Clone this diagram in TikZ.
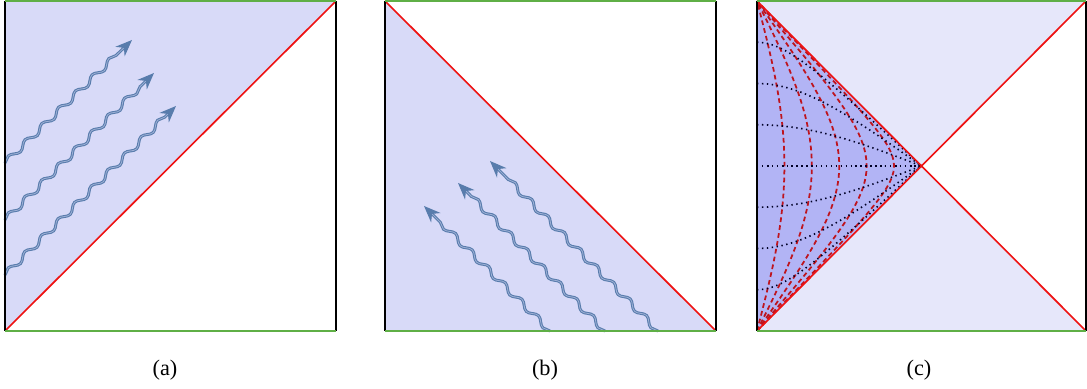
\documentclass[tikz,border=0pt]{standalone}
\usepackage{fontspec}
\setmainfont{Liberation Serif}
\usepackage{tikz}
\usetikzlibrary{arrows.meta,decorations.pathmorphing}
\definecolor{wedgefill}{RGB}{216,218,248}
\definecolor{lightfill}{RGB}{230,231,250}
\definecolor{deepfill}{RGB}{178,180,245}
\definecolor{scrigreen}{RGB}{95,175,70}
\definecolor{horizred}{RGB}{238,18,18}
\definecolor{rhored}{RGB}{190,20,30}
\definecolor{wavblue}{RGB}{88,124,172}

\begin{document}
\begin{tikzpicture}[x=0.015cm,y=-0.015cm,
  every node/.style={font=\fontsize{9.5}{11}\selectfont},
  scri/.style={draw=scrigreen,line width=0.9pt},
  bdry/.style={draw=black,line width=0.7pt},
  horiz/.style={draw=horizred,line width=0.7pt},
  photon/.style={wavblue,line width=0.45pt,double=wedgefill!55!wavblue,double distance=0.35pt,
    decorate,decoration={snake,amplitude=1.2pt,segment length=0.35cm,post length=2.2mm},
    -{Stealth[length=2.5mm,width=2mm]}},
  rho/.style={draw=rhored,line width=0.75pt,dash pattern=on 2pt off 1.4pt},
  tau/.style={draw=black!85!blue,line width=0.7pt,dash pattern=on 0.6pt off 1.5pt},
  lbl/.style={anchor=base}]
\useasboundingbox (0,0) rectangle (1087,389);

% (a)
\coordinate (aTL) at (5,1);   \coordinate (aTR) at (336,1);
\coordinate (aBL) at (5,331); \coordinate (aBR) at (336,331);
\fill[wedgefill] (aTL) -- (aTR) -- (aBL) -- cycle;
\coordinate (a1s) at (5,163); \coordinate (a1e) at (132,40);
\coordinate (a2s) at (5,220); \coordinate (a2e) at (154,73);
\coordinate (a3s) at (5,275); \coordinate (a3e) at (176,106);
\foreach \i in {1,2,3}
  \draw[photon] (a\i s) -- (a\i e);
\draw[horiz] (aBL) -- (aTR);
\draw[bdry] (aTL) -- (aBL) (aTR) -- (aBR);
\draw[scri] (aTL) -- (aTR) (aBL) -- (aBR);
\node[lbl] (la) at (165,376) {(a)};

% (b)
\coordinate (bTL) at (385,1);   \coordinate (bTR) at (716,1);
\coordinate (bBL) at (385,331); \coordinate (bBR) at (716,331);
\fill[wedgefill] (bTL) -- (bBR) -- (bBL) -- cycle;
\coordinate (b1s) at (550,331); \coordinate (b1e) at (424,206);
\coordinate (b2s) at (605,331); \coordinate (b2e) at (458,183);
\coordinate (b3s) at (658,331); \coordinate (b3e) at (490,161);
\foreach \i in {1,2,3}
  \draw[photon] (b\i s) -- (b\i e);
\draw[horiz] (bTL) -- (bBR);
\draw[bdry] (bTL) -- (bBL) (bTR) -- (bBR);
\draw[scri] (bTL) -- (bTR) (bBL) -- (bBR);
\node[lbl] (lb) at (545,376) {(b)};

% (c)
\coordinate (cTL) at (757,1);   \coordinate (cTR) at (1086,1);
\coordinate (cBL) at (757,331); \coordinate (cBR) at (1086,331);
\coordinate (cC) at (921.5,166);
\fill[lightfill] (cTL) -- (cTR) -- (cC) -- cycle;
\fill[lightfill] (cBL) -- (cBR) -- (cC) -- cycle;
\fill[deepfill] (cTL) -- (cC) -- (cBL) -- cycle;
\begin{scope}[shift={(757,166)},xscale=164.5,yscale=-165]
  \foreach \k in {1,...,5}
    \draw[rho] plot[domain=-90:90,samples=61,variable=\t] ({asin(cos(\t)*sin(\k*15))/90},{\t/90});
  \foreach \j in {-3,...,3}
    \draw[tau] plot[domain=0:90,samples=46,variable=\s] ({\s/90},{asin(sin(\j*22.5)*cos(\s))/90});
\end{scope}
\draw[horiz] (cTL) -- (cBR) (cBL) -- (cTR);
\draw[bdry] (cTL) -- (cBL) (cTR) -- (cBR);
\draw[scri] (cTL) -- (cTR) (cBL) -- (cBR);
\node[lbl] (lc) at (919,376) {(c)};
\end{tikzpicture}
\end{document}
